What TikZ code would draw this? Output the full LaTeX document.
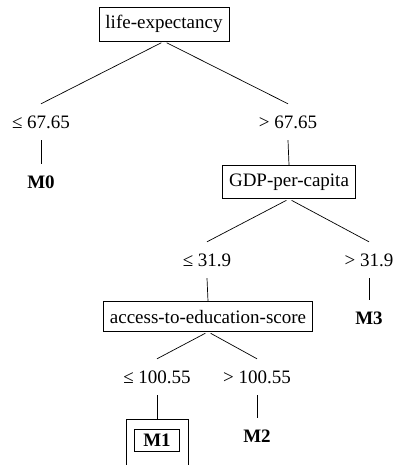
\documentclass[tikz,border=0pt]{standalone}
\usepackage{fontspec}
\setmainfont{Liberation Serif}
\begin{document}
\begin{tikzpicture}[x=1pt,y=-1pt,
  every node/.style={font=\fontsize{19}{22}\selectfont},
  dec/.style={draw,line width=0.7pt,inner xsep=6.5pt,inner ysep=8.3pt},
  lbl/.style={inner sep=0pt,minimum height=36pt},
  leaf/.style={inner sep=0pt,minimum height=36pt,font=\fontsize{19}{22}\selectfont\bfseries},
  conn/.style={line width=0.7pt}]
\clip (0,0) rectangle (394,465);
\node[dec] (le) at (164,24) {life-expectancy};
\node[lbl] (l1) at (41,122) {≤ 67.65};
\node[lbl] (r1) at (288,122) {> 67.65};
\node[leaf] (m0) at (41,182) {M0};
\node[dec] (gdp) at (289,182) {GDP-per-capita};
\node[lbl] (l2) at (207,260) {≤ 31.9};
\node[lbl] (r2) at (369,260) {> 31.9};
\node[leaf] (m3) at (369,318) {M3};
\node[dec] (acc) at (208,316.5) {access-to-education-score};
\node[lbl] (l3) at (157,377) {≤ 100.55};
\node[lbl] (r3) at (257,377) {> 100.55};
\node[draw,line width=0.7pt,minimum width=62pt,minimum height=60pt,anchor=north] (m1o) at (157,419) {};
\node[draw,line width=0.7pt,inner sep=0pt,minimum width=45pt,minimum height=22pt,font=\fontsize{19}{22}\selectfont\bfseries] (m1) at (157,440) {M1};
\node[leaf] (m2) at (257,436) {M2};
\draw[conn,shorten <=3pt] (le.south) -- (l1.north);
\draw[conn,shorten <=3pt] (le.south) -- (r1.north);
\draw[conn] (l1.south) -- (m0.north);
\draw[conn] (r1.south) -- (gdp.north);
\draw[conn,shorten <=3pt] (gdp.south) -- (l2.north);
\draw[conn,shorten <=3pt] (gdp.south) -- (r2.north);
\draw[conn] (l2.south) -- (acc.north);
\draw[conn] (r2.south) -- (m3.north);
\draw[conn,shorten <=3pt] (acc.south) -- (l3.north);
\draw[conn,shorten <=3pt] (acc.south) -- (r3.north);
\draw[conn] (l3.south) -- (m1o.north);
\draw[conn] (r3.south) -- (m2.north);
\end{tikzpicture}
\end{document}
